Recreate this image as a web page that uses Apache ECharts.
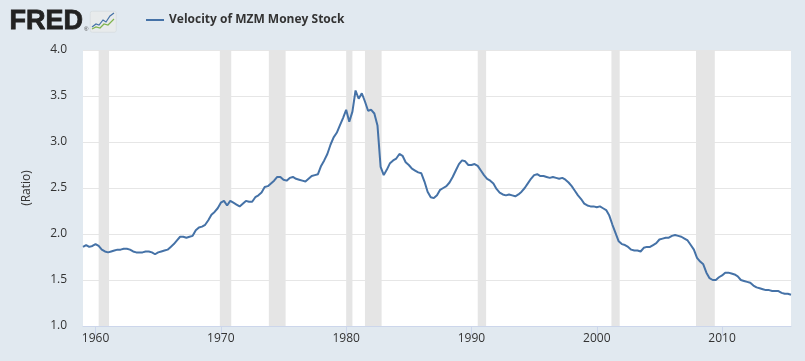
<!DOCTYPE html>
<html>
<head>
<meta charset="utf-8">
<script src="https://cdn.jsdelivr.net/npm/echarts@6/dist/echarts.min.js"></script>
<style>
html,body{margin:0;padding:0;background:#e1e9f0;}
#chart{width:805px;height:361px;}
</style>
</head>
<body>
<div id="chart"></div>
<script>
// Quarterly observations, first quarter = 1959 Q1
const startYear = 1959;
const seriesName = 'Velocity of MZM Money Stock';
const velocity = [
  1.86, 1.88, 1.86, 1.87,   // 1959
  1.89, 1.87, 1.83, 1.81,   // 1960
  1.80, 1.81, 1.82, 1.83,   // 1961
  1.83, 1.84, 1.84, 1.83,   // 1962
  1.81, 1.80, 1.80, 1.80,   // 1963
  1.81, 1.81, 1.80, 1.78,   // 1964
  1.80, 1.81, 1.82, 1.83,   // 1965
  1.86, 1.89, 1.93, 1.97,   // 1966
  1.97, 1.96, 1.97, 1.98,   // 1967
  2.04, 2.07, 2.08, 2.10,   // 1968
  2.15, 2.21, 2.24, 2.28,   // 1969
  2.34, 2.36, 2.31, 2.36,   // 1970
  2.34, 2.32, 2.30, 2.33,   // 1971
  2.36, 2.35, 2.35, 2.40,   // 1972
  2.42, 2.45, 2.51, 2.52,   // 1973
  2.55, 2.58, 2.62, 2.62,   // 1974
  2.59, 2.58, 2.61, 2.62,   // 1975
  2.60, 2.59, 2.58, 2.57,   // 1976
  2.60, 2.63, 2.64, 2.65,   // 1977
  2.74, 2.80, 2.87, 2.97,   // 1978
  3.05, 3.10, 3.18, 3.26,   // 1979
  3.35, 3.22, 3.33, 3.56,   // 1980
  3.47, 3.53, 3.44, 3.34,   // 1981
  3.35, 3.31, 3.18, 2.73,   // 1982
  2.64, 2.70, 2.77, 2.80,   // 1983
  2.82, 2.87, 2.85, 2.78,   // 1984
  2.75, 2.71, 2.69, 2.67,   // 1985
  2.66, 2.57, 2.46, 2.40,   // 1986
  2.39, 2.42, 2.48, 2.50,   // 1987
  2.52, 2.56, 2.62, 2.69,   // 1988
  2.76, 2.80, 2.79, 2.75,   // 1989
  2.75, 2.76, 2.74, 2.69,   // 1990
  2.64, 2.60, 2.58, 2.55,   // 1991
  2.49, 2.45, 2.43, 2.42,   // 1992
  2.43, 2.42, 2.41, 2.43,   // 1993
  2.46, 2.50, 2.55, 2.60,   // 1994
  2.64, 2.65, 2.63, 2.63,   // 1995
  2.62, 2.61, 2.62, 2.61,   // 1996
  2.60, 2.61, 2.59, 2.56,   // 1997
  2.52, 2.47, 2.42, 2.38,   // 1998
  2.33, 2.31, 2.30, 2.30,   // 1999
  2.29, 2.30, 2.28, 2.26,   // 2000
  2.20, 2.10, 2.01, 1.92,   // 2001
  1.89, 1.88, 1.86, 1.83,   // 2002
  1.82, 1.82, 1.81, 1.85,   // 2003
  1.86, 1.86, 1.88, 1.90,   // 2004
  1.94, 1.95, 1.96, 1.96,   // 2005
  1.98, 1.99, 1.98, 1.97,   // 2006
  1.95, 1.93, 1.88, 1.83,   // 2007
  1.74, 1.70, 1.67, 1.58,   // 2008
  1.52, 1.50, 1.50, 1.53,   // 2009
  1.55, 1.58, 1.58, 1.57,   // 2010
  1.56, 1.54, 1.50, 1.49,   // 2011
  1.48, 1.47, 1.44, 1.42,   // 2012
  1.41, 1.40, 1.39, 1.39,   // 2013
  1.38, 1.38, 1.38, 1.36,   // 2014
  1.35, 1.35, 1.34          // 2015
];
// Recession periods (start, end) in decimal years
const recessionStart = [1960.25, 1969.92, 1973.83, 1980.0, 1981.5, 1990.5, 2001.17, 2007.92];
const recessionEnd   = [1961.08, 1970.83, 1975.17, 1980.5, 1982.83, 1991.17, 2001.83, 2009.42];
const xTickLabels = [1960, 1970, 1980, 1990, 2000, 2010];
const xMin = 1959, xMax = 2015.5;
const yMin = 1.0, yMax = 4.0, yStep = 0.5;

const lineData = velocity.map((v, i) => [startYear + i / 4, v]);
const areas = recessionStart.map((s, i) => [{ xAxis: s }, { xAxis: recessionEnd[i] }]);

const chart = echarts.init(document.getElementById('chart'), null, { renderer: 'canvas' });
const FONT = '"Open Sans", "Noto Sans", sans-serif';
chart.setOption({
  backgroundColor: '#e1e9f0',
  animation: false,
  textStyle: { fontFamily: FONT },
  grid: { left: 83, right: 14, top: 50, bottom: 35, show: true, backgroundColor: '#ffffff', borderWidth: 0 },
  legend: {
    data: [seriesName],
    left: 141, top: 9,
    icon: 'rect', itemWidth: 18, itemHeight: 2, itemGap: 8,
    textStyle: { fontFamily: FONT, fontSize: 12, fontWeight: 'bold', color: '#333333' }
  },
  graphic: [
    { type: 'text', left: 9, top: 8, style: { text: 'FRED', fontFamily: '"Liberation Sans", Arial, sans-serif', fontSize: 27, fontWeight: 900, fill: '#222222', stroke: '#222222', lineWidth: 0.8 } },
    { type: 'text', left: 84, top: 26, style: { text: '®', fontSize: 6, fill: '#444' } },
    { type: 'rect', left: 90, top: 11, shape: { width: 26, height: 21, r: 2 }, style: { fill: '#e8ebec', stroke: '#cfd4d6', lineWidth: 0.5 } },
    { type: 'polyline', shape: { points: [[92, 27], [96, 24], [99, 25], [103, 20], [106, 22], [110, 16], [114, 13]] }, style: { stroke: '#4572a7', lineWidth: 1.2, fill: null } },
    { type: 'polyline', shape: { points: [[92, 29], [96, 27], [100, 28], [104, 24], [108, 25], [114, 19]] }, style: { stroke: '#7fb34d', lineWidth: 1.2, fill: null } }
  ],
  xAxis: {
    type: 'value', min: xMin, max: xMax,
    axisLine: { show: true, lineStyle: { color: '#ccd6eb', width: 1 } },
    axisTick: { show: true, customValues: xTickLabels, length: 10, lineStyle: { color: '#ccd6eb' } },
    axisLabel: { customValues: xTickLabels, color: '#333333', fontSize: 12, margin: 7, fontFamily: FONT, formatter: v => String(v) },
    splitLine: { show: false }
  },
  yAxis: {
    type: 'value', min: yMin, max: yMax, interval: yStep,
    name: '(Ratio)', nameLocation: 'middle', nameGap: 50, nameRotate: 90,
    nameTextStyle: { color: '#333333', fontSize: 12, fontFamily: FONT },
    axisLine: { show: false }, axisTick: { show: false },
    axisLabel: { color: '#333333', fontSize: 12, margin: 16, fontFamily: FONT, formatter: v => v.toFixed(1) },
    splitLine: { show: true, lineStyle: { color: '#e6e6e6', width: 1 } }
  },
  series: [
    {
      name: 'recessions', type: 'line', data: [], z: 1, silent: true,
      markArea: { silent: true, itemStyle: { color: '#e5e5e5', opacity: 1 }, data: areas }
    },
    {
      name: seriesName, type: 'line', data: lineData, z: 3,
      showSymbol: false, symbol: 'none', smooth: false,
      lineStyle: { color: '#4572a7', width: 2 },
      itemStyle: { color: '#4572a7' }
    }
  ]
});
</script>
</body>
</html>
